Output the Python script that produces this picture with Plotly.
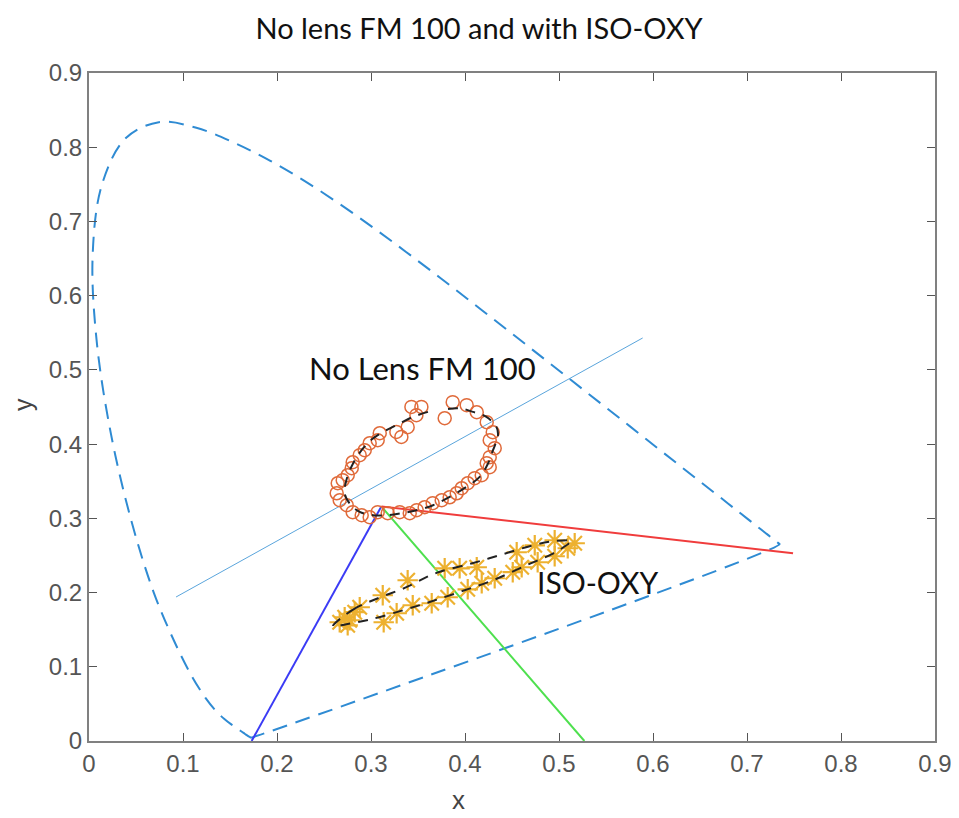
import plotly.graph_objects as go

# CIE 1931 spectral locus (chromaticity x, y), 380-700 nm, closed by the purple line
locus_x = [0.1741, 0.1740, 0.1738, 0.1736, 0.1733, 0.1730, 0.1726, 0.1721, 0.1714, 0.1703,
           0.1689, 0.1669, 0.1644, 0.1611, 0.1566, 0.1510, 0.1440, 0.1355, 0.1241, 0.1096,
           0.0913, 0.0687, 0.0454, 0.0235, 0.0082, 0.0039, 0.0139, 0.0389, 0.0743, 0.1142,
           0.1547, 0.1929, 0.2296, 0.2658, 0.3016, 0.3373, 0.3731, 0.4087, 0.4441, 0.4788,
           0.5125, 0.5448, 0.5752, 0.6029, 0.6270, 0.6482, 0.6658, 0.6801, 0.6915, 0.7006,
           0.7079, 0.7140, 0.7190, 0.7230, 0.7260, 0.7283, 0.7300, 0.7311, 0.7320, 0.7327,
           0.7334, 0.7347, 0.1741]
locus_y = [0.0050, 0.0050, 0.0049, 0.0049, 0.0048, 0.0048, 0.0048, 0.0048, 0.0051, 0.0058,
           0.0069, 0.0086, 0.0109, 0.0138, 0.0177, 0.0227, 0.0297, 0.0399, 0.0578, 0.0868,
           0.1327, 0.2007, 0.2950, 0.4127, 0.5384, 0.6548, 0.7502, 0.8120, 0.8338, 0.8262,
           0.8059, 0.7816, 0.7543, 0.7243, 0.6923, 0.6589, 0.6245, 0.5896, 0.5547, 0.5202,
           0.4866, 0.4544, 0.4242, 0.3965, 0.3725, 0.3514, 0.3340, 0.3197, 0.3083, 0.2993,
           0.2920, 0.2859, 0.2809, 0.2770, 0.2740, 0.2717, 0.2700, 0.2689, 0.2680, 0.2673,
           0.2666, 0.2653, 0.0050]

# Thin reference line
axis_line_x = [0.0926, 0.589]
axis_line_y = [0.194, 0.543]

# Confusion lines from the white point
blue_x = [0.173, 0.311]
blue_y = [0.0, 0.316]
green_x = [0.311, 0.527]
green_y = [0.316, 0.0]
red_x = [0.311, 0.749]
red_y = [0.316, 0.253]

# No lens FM 100 points
fm_x = [0.3869, 0.4018, 0.4125, 0.4231, 0.4295, 0.4263, 0.4316, 0.4263, 0.4231, 0.4263,
        0.4178, 0.4103, 0.4029, 0.3965, 0.3912, 0.3837, 0.3752, 0.3656, 0.3571, 0.3486,
        0.3412, 0.3305, 0.3178, 0.3071, 0.2986, 0.2901, 0.2805, 0.2742, 0.2667, 0.2635,
        0.2646, 0.2699, 0.2752, 0.2795, 0.2805, 0.2880, 0.2933, 0.2986, 0.3071, 0.3093,
        0.3270, 0.3323, 0.3390, 0.3483, 0.3430, 0.3536, 0.3784]
fm_y = [0.4565, 0.4525, 0.4430, 0.4296, 0.4161, 0.4053, 0.3945, 0.3824, 0.3743, 0.3689,
        0.3581, 0.3541, 0.3473, 0.3406, 0.3338, 0.3284, 0.3244, 0.3204, 0.3150, 0.3110,
        0.3069, 0.3083, 0.3069, 0.3083, 0.3015, 0.3042, 0.3083, 0.3177, 0.3244, 0.3338,
        0.3473, 0.3514, 0.3581, 0.3675, 0.3756, 0.3851, 0.3918, 0.4012, 0.4053, 0.4147,
        0.4164, 0.4097, 0.4228, 0.4390, 0.4501, 0.4501, 0.4349]

# FM 100 fitted curve
fm_fit_x = [0.3606, 0.3447, 0.3305, 0.3164, 0.3021, 0.2915, 0.2809, 0.2738, 0.2720, 0.2773,
            0.2880, 0.3021, 0.3164, 0.3305, 0.3483, 0.3660, 0.3837, 0.4015, 0.4156, 0.4245,
            0.4298, 0.4351, 0.4334, 0.4228, 0.4085, 0.3944, 0.3766]
fm_fit_y = [0.4434, 0.4367, 0.4278, 0.4187, 0.4075, 0.3941, 0.3739, 0.3514, 0.3334, 0.3199,
            0.3086, 0.3042, 0.3042, 0.3065, 0.3109, 0.3177, 0.3288, 0.3423, 0.3558, 0.3739,
            0.3918, 0.4120, 0.4232, 0.4367, 0.4434, 0.4480, 0.4466]

# ISO-OXY points
iso_x = [0.2667, 0.2720, 0.2773, 0.2827, 0.2880, 0.2752, 0.3125, 0.3390, 0.3784, 0.3943,
         0.4125, 0.4550, 0.4742, 0.4954, 0.5167, 0.3135, 0.3273, 0.3444, 0.3646, 0.3816,
         0.4029, 0.4178, 0.4316, 0.4508, 0.4603, 0.4773, 0.4954, 0.5093]
iso_y = [0.1600, 0.1667, 0.1627, 0.1735, 0.1802, 0.1559, 0.1964, 0.2166, 0.2327, 0.2327,
         0.2341, 0.2543, 0.2637, 0.2705, 0.2664, 0.1600, 0.1721, 0.1829, 0.1856, 0.1937,
         0.2044, 0.2125, 0.2193, 0.2274, 0.2341, 0.2408, 0.2489, 0.2597]

# ISO-OXY fitted curve
iso_fit_x = [0.2596, 0.2809, 0.3093, 0.3359, 0.3678, 0.4068, 0.4369, 0.4688, 0.4936, 0.5132,
             0.5079, 0.4936, 0.4653, 0.4298, 0.3944, 0.3624, 0.3340, 0.2986, 0.2738, 0.2596]
iso_fit_y = [0.1546, 0.1771, 0.1933, 0.2062, 0.2256, 0.2391, 0.2503, 0.2624, 0.2691, 0.2695,
             0.2637, 0.2526, 0.2368, 0.2166, 0.2008, 0.1873, 0.1761, 0.1636, 0.1573, 0.1546]

tick_vals = [0, 0.1, 0.2, 0.3, 0.4, 0.5, 0.6, 0.7, 0.8, 0.9]
tick_text = ["0", "0.1", "0.2", "0.3", "0.4", "0.5", "0.6", "0.7", "0.8", "0.9"]

fig = go.Figure()
fig.add_trace(go.Scatter(x=locus_x, y=locus_y, mode="lines",
                         line=dict(color="#2f8bd3", width=2, dash="15px,9px"),
                         line_shape="spline", hoverinfo="skip"))
fig.add_trace(go.Scatter(x=axis_line_x, y=axis_line_y, mode="lines",
                         line=dict(color="#5aa5dc", width=1)))
fig.add_trace(go.Scatter(x=blue_x, y=blue_y, mode="lines", line=dict(color="#3b3bf5", width=2)))
fig.add_trace(go.Scatter(x=green_x, y=green_y, mode="lines", line=dict(color="#4ee04e", width=2)))
fig.add_trace(go.Scatter(x=red_x, y=red_y, mode="lines", line=dict(color="#f03c3c", width=2)))
fig.add_trace(go.Scatter(x=fm_x, y=fm_y, mode="markers",
                         marker=dict(symbol="circle-open", size=13, color="#e06a3a",
                                     line=dict(width=1.5, color="#e06a3a"))))
fig.add_trace(go.Scatter(x=fm_fit_x, y=fm_fit_y, mode="lines", line_shape="spline",
                         line=dict(color="#222222", width=2, dash="10px,8px")))
fig.add_trace(go.Scatter(x=iso_x, y=iso_y, mode="markers",
                         marker=dict(symbol="asterisk-open", size=17, color="#edb130",
                                     line=dict(width=2.2, color="#edb130"))))
fig.add_trace(go.Scatter(x=iso_fit_x, y=iso_fit_y, mode="lines", line_shape="spline",
                         line=dict(color="#222222", width=2, dash="10px,8px")))

axis_common = dict(range=[0, 0.9], tickvals=tick_vals, ticktext=tick_text,
                   showgrid=False, zeroline=False, showline=True, linecolor="#808080",
                   linewidth=2, mirror="allticks", ticks="inside", ticklen=8,
                   tickcolor="#555555", tickwidth=1, automargin=False,
                   tickfont=dict(family="Liberation Sans, Arial", size=24, color="#555555"))

# page body has an 8px margin, so the figure is drawn at (8, 8)
W, H = 951, 810
PW, PH = W - 81 - 24, H - 65 - 77
fig.update_layout(
    width=W, height=H,
    margin=dict(l=81, r=24, t=65, b=77),
    paper_bgcolor="white", plot_bgcolor="white",
    showlegend=False,
    title=dict(text="No lens FM 100 and with ISO-OXY", x=(479 - 8) / W, xanchor="center",
               y=1 - 21 / H, yanchor="middle",
               font=dict(family="Lato", size=29, color="#111111")),
    xaxis=dict(**axis_common),
    yaxis=dict(**axis_common),
    annotations=[
        dict(x=0.355, y=0.502, xref="x", yref="y", text="No Lens FM 100", showarrow=False,
             font=dict(family="Lato", size=31, color="#111111")),
        dict(x=0.541, y=0.214, xref="x", yref="y", text="ISO-OXY", showarrow=False,
             font=dict(family="Lato", size=30, color="#111111")),
        dict(x=(458 - 8 - 81) / PW, y=1 - (800 - 8 - 65) / PH, xref="paper", yref="paper",
             xanchor="center", yanchor="middle", text="x", showarrow=False,
             font=dict(family="Liberation Sans, Arial", size=26, color="#444444")),
        dict(x=(23 - 8 - 81) / PW, y=1 - (405 - 8 - 65) / PH,
             xref="paper", yref="paper", xanchor="center", yanchor="middle", text="y",
             textangle=-90, showarrow=False,
             font=dict(family="Liberation Sans, Arial", size=25, color="#444444")),
    ],
)

fig.write_html("out.html")
